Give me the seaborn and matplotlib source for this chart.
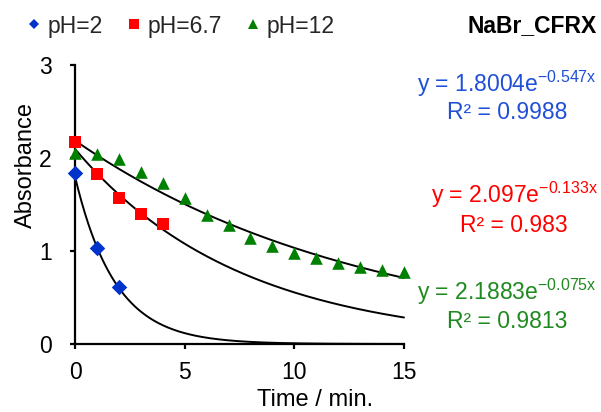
import numpy as np
import pandas as pd
import matplotlib
matplotlib.use("Agg")
import matplotlib.pyplot as plt
from matplotlib.lines import Line2D
import seaborn as sns

# ---- data ----
t_ph2 = [0, 1, 2]
a_ph2 = [1.84, 1.03, 0.61]
t_ph67 = [0, 1, 2, 3, 4]
a_ph67 = [2.17, 1.83, 1.57, 1.40, 1.29]
t_ph12 = [0, 1, 2, 3, 4, 5, 6, 7, 8, 9, 10, 11, 12, 13, 14, 15]
a_ph12 = [2.05, 2.04, 1.99, 1.85, 1.73, 1.57, 1.39, 1.28, 1.14, 1.05, 0.975, 0.92, 0.87, 0.83, 0.80, 0.77]

series_names = ["pH=2", "pH=6.7", "pH=12"]
fit_a = [1.8004, 2.097, 2.1883]
fit_k = [0.547, 0.133, 0.075]
fit_a_txt = ["1.8004", "2.097", "2.1883"]
fit_k_txt = ["0.547", "0.133", "0.075"]
r2_txt = ["0.9988", "0.983", "0.9813"]

marker_colors = ["#0033CC", "#FF0000", "#008000"]
text_colors = ["#1F4FD6", "#FF0000", "#1F8A1F"]
markers = ["D", "s", "^"]
marker_s = [62, 74, 82]
legend_ms = [5.4, 6.6, 7.0]

W, H = 601, 412
sns.set_style("ticks")
plt.rcParams["font.family"] = ["Liberation Sans", "DejaVu Sans"]
plt.rcParams["mathtext.fontset"] = "custom"
plt.rcParams["mathtext.rm"] = "Liberation Sans"
plt.rcParams["mathtext.default"] = "regular"

fig = plt.figure(figsize=(W / 100, H / 100), dpi=100)
ax = fig.add_axes([75 / W, (H - 344) / H, 329 / W, 279 / H])

# trendlines
xs = np.linspace(0, 15, 300)
for a, k in zip(fit_a, fit_k):
    df_fit = pd.DataFrame({"t": xs, "A": a * np.exp(-k * xs)})
    sns.lineplot(data=df_fit, x="t", y="A", ax=ax, color="black", lw=1.4,
                 zorder=2, clip_on=False)

# data points
data = [(t_ph2, a_ph2), (t_ph67, a_ph67), (t_ph12, a_ph12)]
for (tt, aa), name, c, m, s in zip(data, series_names, marker_colors, markers, marker_s):
    df = pd.DataFrame({"t": tt, "A": aa})
    sns.scatterplot(data=df, x="t", y="A", ax=ax, color=c, marker=m, s=s,
                    linewidth=0, zorder=3, clip_on=False)

ax.set_xlim(0, 15)
ax.set_ylim(0, 3)
ax.set_xticks([0, 5, 10, 15])
ax.set_yticks([0, 1, 2, 3])
sns.despine(ax=ax)
for sp in ["left", "bottom"]:
    ax.spines[sp].set_linewidth(1.6)
    ax.spines[sp].set_color("black")
ax.tick_params(axis="both", direction="out", length=3.8, width=1.6, colors="black",
               labelsize=16.5)
ax.tick_params(axis="y", pad=13)
ax.tick_params(axis="x", pad=8.5)

ax.set_xlabel("Time / min.", fontsize=17, color="black")
ax.set_ylabel("Absorbance", fontsize=17, color="black")
ax.xaxis.set_label_coords((315 - 75) / 329, -(388.5 - 344) / 279)
ax.yaxis.set_label_coords((37 - 75) / 329, (344 - 165) / 279)

# legend
handles = [Line2D([], [], linestyle="none", marker=m, color=c, markersize=ms,
                  markeredgewidth=0)
           for m, c, ms in zip(markers, marker_colors, legend_ms)]
fig.legend(handles, series_names, loc="center left", ncol=3, frameon=False,
           bbox_to_anchor=(25 / W, 1 - 26 / H), fontsize=16.5,
           handlelength=0.75, handletextpad=0.25, columnspacing=0.95,
           borderpad=0, borderaxespad=0)

fig.text(597 / W, 1 - 26 / H, "NaBr_CFRX", ha="right", va="center",
         fontsize=16.5, fontweight="bold", color="black")

# trendline equations
eq_cx = [507, 514, 507]
eq_base = [91.5, 203, 300]
r2_base = [119, 232, 328]
for i in range(3):
    eq = "y = " + fit_a_txt[i] + "e$^{-" + fit_k_txt[i] + "x}$"
    fig.text(eq_cx[i] / W, 1 - eq_base[i] / H, eq, ha="center", va="baseline",
             fontsize=16.5, color=text_colors[i])
    fig.text(eq_cx[i] / W, 1 - r2_base[i] / H, "R² = " + r2_txt[i], ha="center",
             va="baseline", fontsize=16.5, color=text_colors[i])

fig.savefig("out.png", dpi=100)
